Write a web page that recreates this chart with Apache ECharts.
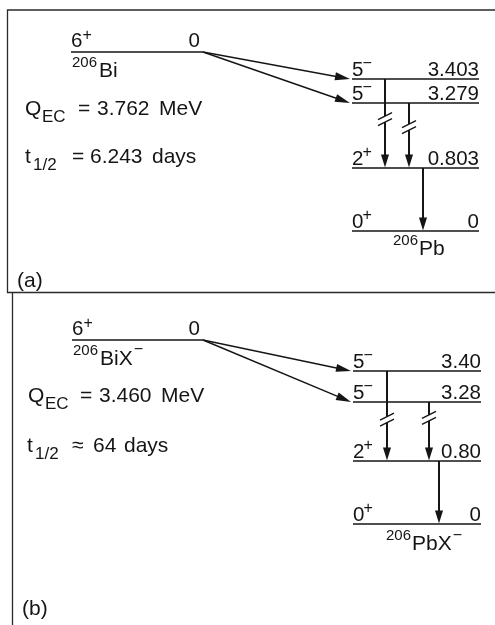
<!DOCTYPE html>
<html><head><meta charset="utf-8">
<script src="https://cdn.jsdelivr.net/npm/echarts@6/dist/echarts.min.js"></script>
<style>html,body{margin:0;padding:0;background:#fff}#c{width:495px;height:625px}</style>
</head><body><div id="c"></div>
<script>
// ---------------- data: panel (a) 206Bi -> 206Pb ----------------
const levelEnergyA = [0, 0.803, 3.279, 3.403];      // MeV
const levelSpinA   = ['0', '2', '5', '5'];
const levelParityA = ['+', '+', '−', '−'];
const levelPlotA   = [0, 6.3, 12.8, 15.2];          // schematic drawing height
const parentPlotA  = 17.9;
const parentSpinA  = ['6', '+'];
const parentEnergyA = 0;
const qecA = 3.762;                                  // MeV
const halfLifeA = ['=', '6.243', 'days'];
const isotopeA = ['206', 'Bi', '', 'Pb', ''];        // mass, parent, charge, daughter, charge
const ecFedA = [3, 2];
const gammaFromA = [3, 2, 1];
const gammaToA   = [1, 1, 0];

// ---------------- data: panel (b) 206BiX- -> 206PbX- ----------------
const levelEnergyB = [0, 0.80, 3.28, 3.40];
const levelSpinB   = ['0', '2', '5', '5'];
const levelParityB = ['+', '+', '−', '−'];
const levelPlotB   = [0, 6.3, 12.2, 15.3];
const parentPlotB  = 18.4;
const parentSpinB  = ['6', '+'];
const parentEnergyB = 0;
const qecB = 3.460;
const halfLifeB = ['≈', '64', 'days'];
const isotopeB = ['206', 'BiX', '−', 'PbX', '−'];
const ecFedB = [3, 2];
const gammaFromB = [3, 2, 1];
const gammaToB   = [1, 1, 0];

// ---------------- layout (diagram units) ----------------
const layoutA = { dec: 3, parentX: [14.2, 40.6], daughterX: [70.4, 95.8], gammaX: [77, 81.8, 84.6],
  breakAt: [0.45, 0.37, -1], qAt: [5, 11.6], tAt: [5, 6.8], tagAt: [3.4, -5.6], tag: '(a)',
  dNameX: 78.6, qDx: [0, 17, 53, 72, 134], tDx: [0, 8, 47, 65, 127], dNameDy: 14 };
const layoutB = { dec: 2, parentX: [14.4, 40.6], daughterX: [70.6, 96.2], gammaX: [77.4, 85.8, 87.8],
  breakAt: [0.54, 0.27, -1], qAt: [5.6, 12.2], tAt: [5.4, 7.2], tagAt: [4.4, -9.1], tag: '(b)',
  dNameX: 77.2, qDx: [0, 17, 52, 71, 133], tDx: [0, 8, 45, 66, 97], dNameDy: 16 };

const panels = [
  { E: levelEnergyA, S: levelSpinA, P: levelParityA, Y: levelPlotA, pY: parentPlotA, pS: parentSpinA,
    pE: parentEnergyA, q: qecA, t: halfLifeA, iso: isotopeA, ec: ecFedA, gF: gammaFromA, gT: gammaToA, L: layoutA },
  { E: levelEnergyB, S: levelSpinB, P: levelParityB, Y: levelPlotB, pY: parentPlotB, pS: parentSpinB,
    pE: parentEnergyB, q: qecB, t: halfLifeB, iso: isotopeB, ec: ecFedB, gF: gammaFromB, gT: gammaToB, L: layoutB }
];

// ---------------- helpers ----------------
const FONT = '"Liberation Sans", Arial, Helvetica, sans-serif';
const INK = '#151515';
const mctx = document.createElement('canvas').getContext('2d');
const offCache = {};
function baseOff(size) {
  if (offCache[size] != null) return offCache[size];
  mctx.font = size + 'px ' + FONT;
  mctx.textBaseline = 'alphabetic';
  const a = mctx.measureText('0').fontBoundingBoxAscent;
  mctx.textBaseline = 'middle';
  const m = mctx.measureText('0').fontBoundingBoxAscent;
  let off = a - m;
  if (!isFinite(off)) off = 0.35 * size;
  return (offCache[size] = off);
}
function tw(str, size) { mctx.font = size + 'px ' + FONT; return mctx.measureText(str).width; }
function T(str, x, baseline, size, align) {
  align = align || 'left';
  return { type: 'text', silent: true, style: { text: str, x: x, y: baseline - baseOff(size), fill: INK,
    fontSize: size, fontFamily: FONT, align: align, verticalAlign: 'middle', textAlign: align, textVerticalAlign: 'middle' } };
}
function Ln(x1, y1, x2, y2, w) {
  return { type: 'line', silent: true, shape: { x1: x1, y1: y1, x2: x2, y2: y2 }, style: { stroke: INK, lineWidth: w, lineCap: 'butt' } };
}
function head(tx, ty, fx, fy, len, hw) {
  const dx = tx - fx, dy = ty - fy, d = Math.hypot(dx, dy), ux = dx / d, uy = dy / d;
  const bx = tx - ux * len, by = ty - uy * len;
  return { type: 'polygon', silent: true, shape: { points: [[tx, ty], [bx - uy * hw, by + ux * hw], [bx + uy * hw, by - ux * hw]] }, style: { fill: INK } };
}
function fmtE(v, dec) { return v === 0 ? '0' : v.toFixed(dec); }

function panelSeries(D, gi) {
  const L = D.L;
  const base = { type: 'custom', xAxisIndex: gi, yAxisIndex: gi, silent: true, animation: false, clip: false };
  const out = [];
  // daughter levels
  out.push(Object.assign({}, base, {
    data: D.Y.map((y, i) => [L.daughterX[0], y, L.daughterX[1], i]),
    renderItem(params, api) {
      const i = api.value(3);
      const a = api.coord([api.value(0), api.value(1)]);
      const b = api.coord([api.value(2), api.value(1)]);
      return { type: 'group', children: [
        Ln(a[0], a[1], b[0], b[1], 1.7),
        T(D.S[i], a[0], a[1] - 3, 20.5),
        T(D.P[i], a[0] + tw(D.S[i], 20.5) - 1, a[1] - 11, 16),
        T(fmtE(D.E[i], L.dec), b[0], a[1] - 3, 20.5, 'right')
      ] };
    }
  }));
  // parent level
  out.push(Object.assign({}, base, {
    data: [[L.parentX[0], D.pY, L.parentX[1]]],
    renderItem(params, api) {
      const a = api.coord([api.value(0), api.value(1)]);
      const b = api.coord([api.value(2), api.value(1)]);
      const ch = [
        Ln(a[0], a[1], b[0], b[1], 1.7),
        T(D.pS[0], a[0], a[1] - 5, 20.5),
        T(D.pS[1], a[0] + tw(D.pS[0], 20.5), a[1] - 12.5, 16),
        T(fmtE(D.pE, 0), b[0] - 3, a[1] - 5, 20.5, 'right'),
        T(D.iso[0], a[0] + 1, a[1] + 15, 15)
      ];
      const nx = a[0] + 1 + tw(D.iso[0], 15) + 2;
      ch.push(T(D.iso[1], nx, a[1] + 25, 21));
      if (D.iso[2]) ch.push(T(D.iso[2], nx + tw(D.iso[1], 21) + 1, a[1] + 14, 16));
      return { type: 'group', children: ch };
    }
  }));
  // EC feeding arrows
  out.push(Object.assign({}, base, {
    data: D.ec.map(k => [L.parentX[1], D.pY, L.daughterX[0], D.Y[k]]),
    renderItem(params, api) {
      const p = api.coord([api.value(0), api.value(1)]);
      const q = api.coord([api.value(2), api.value(3)]);
      const tip = [q[0] - 2, q[1]];
      const d = Math.hypot(tip[0] - p[0], tip[1] - p[1]);
      const ex = tip[0] - (tip[0] - p[0]) / d * 10, ey = tip[1] - (tip[1] - p[1]) / d * 10;
      return { type: 'group', children: [Ln(p[0], p[1], ex, ey, 1.4), head(tip[0], tip[1], p[0], p[1], 15, 4)] };
    }
  }));
  // gamma transitions
  out.push(Object.assign({}, base, {
    data: D.gF.map((f, j) => [L.gammaX[j], D.Y[f], D.Y[D.gT[j]], L.breakAt[j]]),
    renderItem(params, api) {
      const p = api.coord([api.value(0), api.value(1)]);
      const q = api.coord([api.value(0), api.value(2)]);
      const x = p[0], tipY = q[1] - 0.5;
      const ch = [Ln(x, p[1], x, tipY - 8, 2), head(x, tipY, x, p[1], 13, 4)];
      const f = api.value(3);
      if (f > 0) {
        const yc = p[1] + f * (q[1] - p[1]);
        ch.push({ type: 'rect', silent: true, shape: { x: x - 2, y: yc - 3, width: 4, height: 6 }, style: { fill: '#fff' } });
        ch.push(Ln(x - 7, yc - 3 + 3.5, x + 7, yc - 3 - 3.5, 1.3));
        ch.push(Ln(x - 7, yc + 3 + 3.5, x + 7, yc + 3 - 3.5, 1.3));
      }
      return { type: 'group', children: ch };
    }
  }));
  // annotations (Q value, half-life, daughter name, panel tag)
  out.push(Object.assign({}, base, {
    data: [[L.qAt[0], L.qAt[1], L.tAt[0], L.tAt[1], L.tagAt[0], L.tagAt[1]]],
    renderItem(params, api) {
      const qa = api.coord([api.value(0), api.value(1)]);
      const ta = api.coord([api.value(2), api.value(3)]);
      const ga = api.coord([api.value(4), api.value(5)]);
      const g0 = api.coord([L.dNameX, D.Y[0]]);
      const qd = L.qDx, td = L.tDx;
      const ch = [
        T('Q', qa[0] + qd[0], qa[1], 21), T('EC', qa[0] + qd[1], qa[1] + 7, 17), T('=', qa[0] + qd[2], qa[1], 21),
        T(D.q.toFixed(3), qa[0] + qd[3], qa[1], 21), T('MeV', qa[0] + qd[4], qa[1], 21),
        T('t', ta[0] + td[0], ta[1], 21), T('1/2', ta[0] + td[1], ta[1] + 7, 17), T(D.t[0], ta[0] + td[2], ta[1], 21),
        T(D.t[1], ta[0] + td[3], ta[1], 21), T(D.t[2], ta[0] + td[4], ta[1], 21),
        T(L.tag, ga[0], ga[1], 21),
        T(D.iso[0], g0[0], g0[1] + L.dNameDy, 15)
      ];
      const nx = g0[0] + tw(D.iso[0], 15) + 1;
      ch.push(T(D.iso[3], nx, g0[1] + L.dNameDy + 10, 21));
      if (D.iso[4]) ch.push(T(D.iso[4], nx + tw(D.iso[3], 21) + 1, g0[1] + L.dNameDy, 16));
      return { type: 'group', children: ch };
    }
  }));
  return out;
}

const chart = echarts.init(document.getElementById('c'), null, { renderer: 'canvas' });
chart.setOption({
  animation: false,
  backgroundColor: '#ffffff',
  grid: [
    { left: 0, top: 11, width: 495, height: 320, show: false },
    { left: 0, top: 304, width: 495, height: 320, show: false }
  ],
  xAxis: [
    { type: 'value', gridIndex: 0, min: 0, max: 99, show: false },
    { type: 'value', gridIndex: 1, min: 0, max: 99, show: false }
  ],
  yAxis: [
    { type: 'value', gridIndex: 0, min: -10, max: 22, show: false },
    { type: 'value', gridIndex: 1, min: -10, max: 22, show: false }
  ],
  graphic: [
    { type: 'polyline', silent: true, shape: { points: [[500, 10], [7.5, 10], [7.5, 292.5], [500, 292.5]] },
      style: { stroke: '#2a2a2a', lineWidth: 1.3, fill: 'none' } },
    { type: 'line', silent: true, shape: { x1: 12.5, y1: 292.5, x2: 12.5, y2: 630 },
      style: { stroke: '#2a2a2a', lineWidth: 1.3 } }
  ],
  series: [].concat(panelSeries(panels[0], 0), panelSeries(panels[1], 1))
});
</script>
</body></html>
